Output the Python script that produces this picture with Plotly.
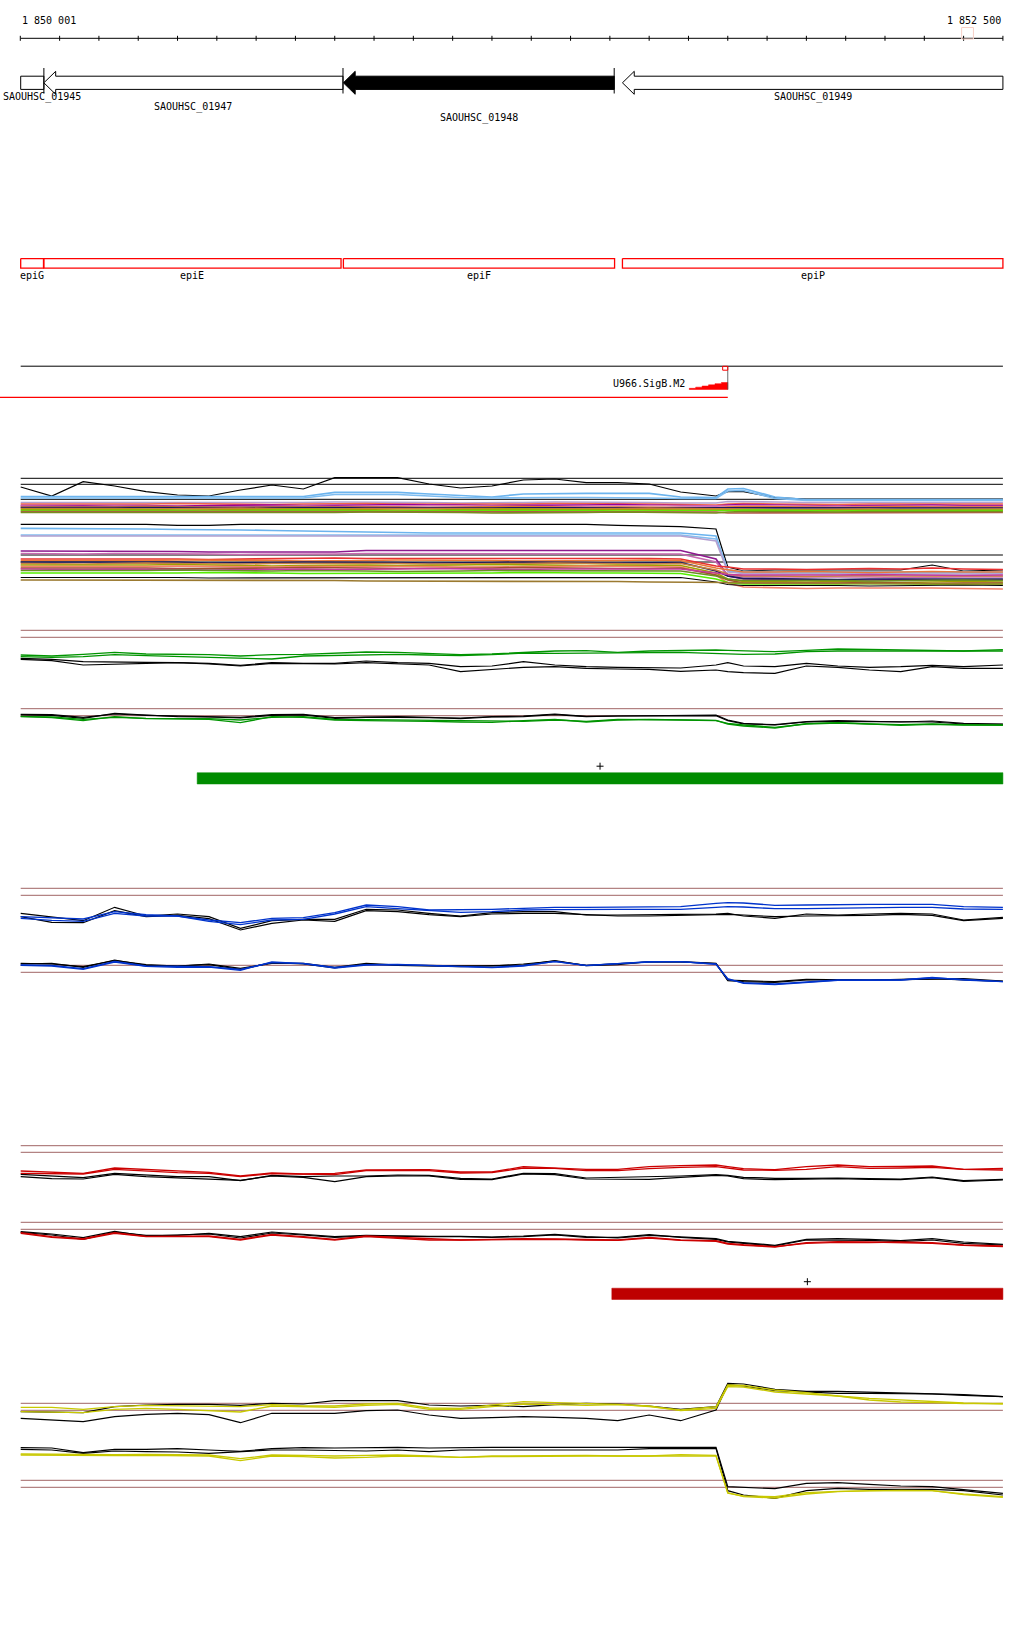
import plotly.graph_objects as go

# ---- genome window -------------------------------------------------------
VIEW_START = 1850001
VIEW_END = 1852500
RULER_TICKS = list(range(1850000, 1852501, 100))
CURSOR_BP = 1852410

GENE_NAMES = ["SAOUHSC_01945", "SAOUHSC_01947", "SAOUHSC_01948", "SAOUHSC_01949"]
GENE_START = [1849700, 1850060, 1850822, 1851532]
GENE_END = [1850060, 1850821, 1851511, 1853300]
GENE_FILL = ["white", "white", "black", "white"]

EPI_NAMES = ["epiG", "epiE", "epiF", "epiP"]
EPI_START = [1849990, 1850060, 1850822, 1851532]
EPI_END = [1850059, 1850816, 1851512, 1853300]

SIGB_NAME = "U966.SigB.M2"
SIGB_SITE = 1851800
SIGB_MOTIF_START = 1851702
SIGB_REGION_START = 1849900

GREEN_OPERON = [1850450, 1852500]
RED_OPERON = [1851505, 1852500]

# probe positions shared by all expression profiles
POS = [1850001, 1850080, 1850160, 1850240, 1850320, 1850400, 1850480, 1850560,
       1850640, 1850720, 1850800, 1850880, 1850960, 1851040, 1851120, 1851200,
       1851280, 1851360, 1851440, 1851520, 1851600, 1851680, 1851770, 1851800,
       1851840, 1851920, 1852000, 1852080, 1852160, 1852240, 1852320, 1852400,
       1852500]

# ---- all-conditions panel, upper half -----------------------------------
A_LEVELS = [4.17, 3.57, 2.07]
A_BLACK = [3.3, 2.4, 3.83, 3.4, 2.83, 2.5, 2.4, 3.0, 3.5, 3.1, 4.23, 4.23, 4.23, 3.6, 3.2, 3.4, 4.0,
           4.1, 3.73, 3.73, 3.6, 2.8, 2.4, 2.83, 2.83, 2.25, 2.1, 2.1, 2.1, 2.1, 2.1, 2.1, 2.1]
A_LB1 = [2.35, 2.35, 2.35, 2.35, 2.35, 2.35, 2.35, 2.35, 2.35, 2.35, 2.77, 2.77, 2.77, 2.6, 2.45, 2.3, 2.6,
         2.67, 2.67, 2.67, 2.67, 2.3, 2.25, 3.1, 3.15, 2.3, 2.05, 2.05, 2.05, 2.05, 2.05, 2.05, 2.05]
A_LB2 = [2.2, 2.2, 2.2, 2.25, 2.25, 2.25, 2.2, 2.2, 2.2, 2.2, 2.55, 2.55, 2.55, 2.4, 2.25, 2.2, 2.25,
         2.25, 2.25, 2.25, 2.2, 2.15, 2.15, 2.9, 2.95, 2.15, 1.95, 1.95, 1.95, 1.95, 1.95, 1.95, 1.95]
A_LAV = [1.75, 1.75, 1.7, 1.7, 1.75, 1.75, 1.7, 1.7, 1.75, 1.75, 1.8, 1.8, 1.75, 1.75, 1.7, 1.7, 1.75,
         1.8, 1.8, 1.75, 1.75, 1.7, 1.7, 1.85, 1.85, 1.8, 1.75, 1.75, 1.8, 1.8, 1.75, 1.75, 1.75]
A_SALMON = [1.6, 1.6, 1.55, 1.6, 1.6, 1.65, 1.6, 1.55, 1.55, 1.6, 1.65, 1.65, 1.6, 1.6, 1.55, 1.6, 1.6,
            1.65, 1.65, 1.6, 1.6, 1.55, 1.5, 1.6, 1.65, 1.6, 1.55, 1.55, 1.6, 1.6, 1.55, 1.55, 1.6]
A_PURPLE = [1.45, 1.45, 1.5, 1.5, 1.45, 1.4, 1.45, 1.5, 1.5, 1.45, 1.45, 1.5, 1.55, 1.55, 1.5, 1.45, 1.45,
            1.5, 1.5, 1.55, 1.5, 1.45, 1.4, 1.5, 1.55, 1.5, 1.45, 1.4, 1.45, 1.5, 1.5, 1.45, 1.45]
A_PINK = [1.4, 1.35, 1.35, 1.4, 1.4, 1.35, 1.3, 1.35, 1.4, 1.4, 1.35, 1.35, 1.4, 1.45, 1.4, 1.4, 1.35,
          1.35, 1.4, 1.4, 1.45, 1.4, 1.35, 1.4, 1.45, 1.4, 1.4, 1.35, 1.35, 1.4, 1.4, 1.35, 1.35]
A_ORANGE = [1.3, 1.3, 1.25, 1.3, 1.35, 1.3, 1.25, 1.25, 1.3, 1.3, 1.35, 1.3, 1.3, 1.25, 1.3, 1.3, 1.35,
            1.3, 1.25, 1.3, 1.3, 1.25, 1.2, 1.3, 1.35, 1.3, 1.25, 1.25, 1.3, 1.35, 1.3, 1.3, 1.3]
A_NAVY = [1.25, 1.25, 1.2, 1.2, 1.25, 1.2, 1.25, 1.25, 1.2, 1.2, 1.25, 1.2, 1.2, 1.25, 1.25, 1.2, 1.2,
          1.25, 1.25, 1.2, 1.2, 1.25, 1.2, 1.25, 1.25, 1.2, 1.2, 1.25, 1.25, 1.2, 1.2, 1.25, 1.2]
A_TAN = [1.15, 1.15, 1.2, 1.15, 1.1, 1.15, 1.15, 1.2, 1.15, 1.1, 1.1, 1.15, 1.15, 1.2, 1.15, 1.15, 1.1,
         1.1, 1.15, 1.15, 1.2, 1.15, 1.1, 1.1, 1.1, 1.05, 1.05, 1.1, 1.1, 1.05, 1.05, 1.1, 1.1]
A_OLIVE = [1.05, 1.05, 1.1, 1.1, 1.05, 1.0, 1.0, 1.05, 1.05, 1.1, 1.05, 1.05, 1.0, 1.0, 1.05, 1.05, 1.1,
           1.05, 1.05, 1.0, 1.0, 1.05, 1.0, 1.0, 0.95, 0.95, 1.0, 1.0, 0.95, 0.95, 1.0, 1.0, 1.0]
A_GREEN = [0.95, 0.95, 1.0, 1.0, 0.95, 0.95, 0.9, 0.95, 1.0, 1.0, 0.95, 0.9, 0.9, 0.95, 0.95, 1.0, 1.0,
           0.95, 0.95, 0.9, 0.9, 0.95, 0.9, 0.95, 1.0, 0.95, 0.95, 0.9, 0.95, 0.95, 0.9, 0.9, 0.95]
A_BROWN = [0.85, 0.85, 0.8, 0.8, 0.85, 0.85, 0.8, 0.85, 0.85, 0.8, 0.8, 0.85, 0.85, 0.85, 0.8, 0.8, 0.85,
           0.85, 0.8, 0.8, 0.85, 0.85, 0.8, 0.7, 0.7, 0.75, 0.7, 0.7, 0.75, 0.75, 0.7, 0.75, 0.75]
A_DRAB = [0.75, 0.75, 0.75, 0.7, 0.7, 0.75, 0.75, 0.7, 0.7, 0.75, 0.75, 0.8, 0.8, 0.75, 0.75, 0.7, 0.7,
          0.75, 0.75, 0.8, 0.75, 0.75, 0.7, 0.8, 0.85, 0.85, 0.8, 0.8, 0.85, 0.85, 0.8, 0.8, 0.85]

# ---- all-conditions panel, lower half -----------------------------------
B_LEVELS = [4.0, 3.3]
B_BLACK = [7.07, 7.07, 7.0, 7.07, 7.07, 6.97, 6.97, 7.07, 7.07, 7.07, 7.07, 7.07, 7.07, 7.07, 7.07, 7.07, 7.07,
           7.07, 7.07, 6.97, 6.93, 6.83, 6.6, 2.8, 2.4, 2.5, 2.5, 2.5, 2.5, 2.5, 3.0, 2.4, 2.5]
B_LB = [6.67, 6.67, 6.67, 6.65, 6.6, 6.55, 6.55, 6.5, 6.45, 6.4, 6.3, 6.25, 6.2, 6.2, 6.2, 6.2, 6.2,
        6.2, 6.2, 6.2, 6.2, 6.2, 5.9, 2.4, 2.2, 2.2, 2.2, 2.15, 2.2, 2.2, 2.25, 2.2, 2.2]
B_LB2 = [6.0, 6.0, 5.95, 5.95, 6.0, 6.0, 5.95, 5.95, 6.0, 6.0, 5.95, 5.95, 5.95, 6.0, 6.0, 6.0, 5.95,
         5.95, 5.95, 6.0, 6.0, 6.0, 5.6, 2.5, 2.35, 2.3, 2.3, 2.35, 2.3, 2.3, 2.3, 2.35, 2.3]
B_LAV = [5.9, 5.9, 5.9, 5.85, 5.85, 5.9, 5.9, 5.85, 5.85, 5.9, 5.9, 5.9, 5.85, 5.85, 5.9, 5.9, 5.9,
         5.85, 5.85, 5.9, 5.9, 5.9, 5.4, 2.3, 2.15, 2.1, 2.1, 2.1, 2.15, 2.1, 2.1, 2.1, 2.1]
B_PURPLE = [4.4, 4.4, 4.4, 4.4, 4.4, 4.35, 4.3, 4.3, 4.3, 4.3, 4.3, 4.45, 4.45, 4.45, 4.5, 4.5, 4.5,
            4.45, 4.45, 4.45, 4.45, 4.45, 3.6, 1.9, 1.6, 1.55, 1.55, 1.5, 1.5, 1.55, 1.5, 1.5, 1.5]
B_PINK = [4.15, 4.1, 4.1, 4.15, 4.15, 4.1, 4.1, 4.05, 4.05, 4.1, 4.1, 4.15, 4.15, 4.1, 4.1, 4.1, 4.15,
          4.15, 4.1, 4.1, 4.1, 4.1, 3.3, 2.0, 1.8, 1.8, 1.85, 1.8, 1.8, 1.75, 1.8, 1.8, 1.8]
B_RED = [3.6, 3.6, 3.65, 3.65, 3.6, 3.6, 3.55, 3.6, 3.65, 3.7, 3.7, 3.65, 3.65, 3.7, 3.7, 3.7, 3.65,
         3.65, 3.7, 3.7, 3.65, 3.6, 2.9, 2.8, 2.6, 2.6, 2.55, 2.6, 2.65, 2.6, 2.7, 2.6, 2.55]
B_ORANGE = [3.45, 3.45, 3.4, 3.4, 3.45, 3.5, 3.5, 3.45, 3.45, 3.4, 3.4, 3.45, 3.5, 3.5, 3.45, 3.45, 3.4,
            3.4, 3.45, 3.45, 3.5, 3.45, 2.7, 2.5, 2.3, 2.3, 2.35, 2.3, 2.25, 2.3, 2.35, 2.3, 2.3]
B_NAVY = [3.3, 3.3, 3.25, 3.25, 3.3, 3.3, 3.2, 3.2, 3.25, 3.3, 3.3, 3.25, 3.25, 3.2, 3.2, 3.25, 3.3,
          3.3, 3.25, 3.2, 3.2, 3.25, 2.4, 1.9, 1.65, 1.6, 1.6, 1.55, 1.6, 1.6, 1.65, 1.6, 1.6]
B_TAN = [3.15, 3.1, 3.1, 3.15, 3.2, 3.15, 3.1, 3.1, 3.15, 3.15, 3.2, 3.2, 3.15, 3.1, 3.1, 3.15, 3.15,
         3.2, 3.15, 3.1, 3.1, 3.15, 2.5, 2.1, 1.9, 1.9, 1.85, 1.9, 1.95, 1.9, 1.9, 1.85, 1.9]
B_OLIVE = [3.0, 3.0, 2.95, 2.95, 3.0, 3.05, 3.0, 2.95, 2.9, 2.95, 3.0, 3.0, 2.95, 2.95, 3.0, 3.05, 3.0,
           2.95, 2.95, 3.0, 3.0, 2.95, 2.2, 1.6, 1.35, 1.3, 1.3, 1.35, 1.3, 1.25, 1.3, 1.35, 1.3]
B_SALMON = [2.85, 2.85, 2.8, 2.8, 2.85, 2.9, 2.85, 2.8, 2.8, 2.85, 2.85, 2.9, 2.9, 2.85, 2.8, 2.8, 2.85,
            2.85, 2.9, 2.85, 2.8, 2.8, 2.0, 1.2, 0.8, 0.7, 0.65, 0.7, 0.7, 0.75, 0.7, 0.65, 0.6]
B_BROWN = [2.7, 2.7, 2.75, 2.75, 2.7, 2.65, 2.65, 2.7, 2.7, 2.75, 2.75, 2.7, 2.65, 2.65, 2.7, 2.7, 2.75,
           2.7, 2.7, 2.65, 2.65, 2.7, 2.0, 1.5, 1.2, 1.2, 1.15, 1.2, 1.25, 1.2, 1.15, 1.2, 1.2]
B_MAG = [2.6, 2.55, 2.55, 2.6, 2.6, 2.55, 2.5, 2.55, 2.6, 2.6, 2.55, 2.55, 2.6, 2.65, 2.6, 2.55, 2.55,
         2.6, 2.6, 2.55, 2.55, 2.6, 2.2, 2.05, 2.0, 2.0, 1.95, 2.0, 2.05, 2.0, 2.0, 1.95, 2.0]
B_DRAB = [2.45, 2.45, 2.4, 2.4, 2.45, 2.5, 2.45, 2.4, 2.4, 2.45, 2.45, 2.4, 2.35, 2.35, 2.4, 2.45, 2.45,
          2.4, 2.4, 2.45, 2.45, 2.4, 1.9, 1.6, 1.45, 1.45, 1.5, 1.45, 1.4, 1.45, 1.45, 1.5, 1.45]
B_GREEN = [2.2, 2.2, 2.15, 2.15, 2.2, 2.2, 2.25, 2.25, 2.2, 2.15, 2.15, 2.2, 2.2, 2.15, 2.15, 2.2, 2.25,
           2.2, 2.2, 2.2, 2.15, 2.15, 1.6, 1.25, 1.1, 1.1, 1.05, 1.1, 1.15, 1.1, 1.1, 1.05, 1.1]
B_DARK = [1.75, 1.75, 1.8, 1.8, 1.75, 1.75, 1.7, 1.7, 1.75, 1.75, 1.7, 1.7, 1.75, 1.75, 1.7, 1.7, 1.75,
          1.75, 1.7, 1.7, 1.75, 1.75, 1.3, 1.05, 0.95, 0.95, 1.0, 0.95, 0.9, 0.95, 0.95, 1.0, 0.95]
B_OCHRE = [1.5, 1.5, 1.5, 1.5, 1.5, 1.5, 1.5, 1.5, 1.5, 1.45, 1.45, 1.4, 1.4, 1.4, 1.4, 1.4, 1.4,
           1.35, 1.35, 1.35, 1.3, 1.3, 1.3, 1.25, 1.2, 1.15, 1.15, 1.15, 1.15, 1.1, 1.1, 1.1, 1.1]

# ---- green condition ----------------------------------------------------
GA_LEVELS = [5.97, 5.27]
GA_G1 = [3.5, 3.4, 3.57, 3.77, 3.6, 3.57, 3.53, 3.4, 3.53, 3.57, 3.67, 3.8, 3.77, 3.67, 3.53, 3.6, 3.77,
         3.9, 3.93, 3.77, 3.9, 3.97, 4.0, 3.97, 3.9, 3.83, 3.97, 4.1, 4.07, 4.0, 3.97, 3.9, 4.03]
GA_G2 = [3.33, 3.27, 3.33, 3.53, 3.43, 3.33, 3.3, 3.2, 3.1, 3.4, 3.47, 3.53, 3.57, 3.5, 3.43, 3.53, 3.7,
         3.67, 3.67, 3.7, 3.73, 3.77, 3.67, 3.63, 3.57, 3.6, 3.83, 3.9, 3.9, 3.87, 3.93, 3.9, 3.9]
GA_K1 = [3.17, 3.07, 2.83, 2.83, 2.77, 2.73, 2.67, 2.47, 2.73, 2.67, 2.67, 2.9, 2.73, 2.67, 2.33, 2.4, 2.83,
         2.5, 2.33, 2.27, 2.27, 2.2, 2.5, 2.73, 2.4, 2.33, 2.67, 2.4, 2.27, 2.33, 2.47, 2.33, 2.5]
GA_K2 = [3.07, 2.93, 2.5, 2.6, 2.67, 2.73, 2.6, 2.4, 2.67, 2.63, 2.6, 2.73, 2.6, 2.5, 1.83, 2.07, 2.27,
         2.33, 2.17, 2.1, 2.07, 1.87, 2.0, 1.83, 1.73, 1.67, 2.4, 2.27, 2.0, 1.83, 2.33, 2.17, 2.17]
GB_LEVELS = [3.13, 2.43]
GB_K1 = [2.57, 2.53, 2.27, 2.6, 2.47, 2.4, 2.33, 2.27, 2.53, 2.57, 2.23, 2.3, 2.33, 2.27, 2.13, 2.3, 2.33,
         2.53, 2.33, 2.4, 2.43, 2.47, 2.5, 2.0, 1.67, 1.5, 1.8, 1.87, 1.83, 1.83, 1.8, 1.6, 1.57]
GB_K2 = [2.5, 2.47, 2.17, 2.67, 2.5, 2.33, 2.3, 2.2, 2.47, 2.5, 2.17, 2.27, 2.27, 2.2, 2.2, 2.33, 2.4,
         2.6, 2.37, 2.4, 2.4, 2.47, 2.43, 1.93, 1.6, 1.53, 1.83, 1.93, 1.87, 1.8, 1.9, 1.67, 1.6]
GB_G1 = [2.33, 2.3, 2.07, 2.27, 2.17, 2.17, 2.13, 2.0, 2.27, 2.33, 2.07, 2.03, 2.0, 1.97, 1.93, 1.87, 1.87,
         2.0, 1.87, 2.07, 2.07, 2.0, 1.93, 1.67, 1.5, 1.27, 1.6, 1.7, 1.6, 1.53, 1.6, 1.5, 1.5]
GB_G2 = [2.37, 2.23, 1.93, 2.33, 2.13, 2.13, 2.07, 1.73, 2.33, 2.27, 2.0, 1.93, 1.93, 1.87, 1.8, 1.77, 1.93,
         2.07, 1.8, 2.0, 2.07, 2.0, 1.97, 1.6, 1.4, 1.2, 1.63, 1.73, 1.63, 1.47, 1.57, 1.53, 1.47]

# ---- blue condition -----------------------------------------------------
BA_LEVELS = [5.17, 4.47]
BA_C1 = [2.33, 2.2, 2.1, 2.83, 2.53, 2.4, 2.0, 1.73, 2.17, 2.23, 2.73, 3.5, 3.33, 3.0, 3.0, 3.07, 3.17,
         3.27, 3.27, 3.27, 3.27, 3.33, 3.67, 3.73, 3.7, 3.47, 3.5, 3.57, 3.57, 3.57, 3.57, 3.33, 3.27]
BA_C2 = [2.17, 1.97, 1.87, 2.67, 2.4, 2.4, 1.87, 1.53, 2.0, 2.07, 2.6, 3.33, 3.13, 2.93, 2.77, 2.83, 3.0,
         3.03, 3.07, 3.07, 3.07, 3.07, 3.27, 3.33, 3.3, 3.13, 3.13, 3.2, 3.27, 3.27, 3.27, 3.1, 3.07]
BA_K1 = [2.67, 2.27, 1.93, 3.27, 2.4, 2.6, 2.33, 1.17, 1.93, 2.07, 2.07, 3.07, 3.0, 2.67, 2.4, 2.73, 2.83,
         2.83, 2.5, 2.5, 2.5, 2.57, 2.6, 2.67, 2.4, 2.17, 2.6, 2.5, 2.6, 2.67, 2.6, 2.0, 2.27]
BA_K2 = [2.33, 1.77, 1.73, 2.93, 2.33, 2.47, 2.13, 1.0, 1.67, 2.0, 1.87, 2.93, 2.83, 2.53, 2.33, 2.6, 2.67,
         2.67, 2.53, 2.4, 2.4, 2.47, 2.5, 2.57, 2.5, 2.33, 2.4, 2.4, 2.47, 2.57, 2.47, 1.93, 2.17]
BB_LEVELS = [2.47, 1.77]
BB_K1 = [2.67, 2.6, 2.33, 2.93, 2.53, 2.4, 2.6, 2.17, 2.67, 2.67, 2.27, 2.67, 2.5, 2.47, 2.4, 2.4, 2.6,
         2.9, 2.47, 2.6, 2.8, 2.83, 2.67, 1.0, 0.93, 0.83, 1.07, 1.0, 1.0, 1.03, 1.1, 1.13, 0.9]
BB_K2 = [2.6, 2.67, 2.27, 3.0, 2.47, 2.4, 2.53, 2.07, 2.73, 2.6, 2.2, 2.6, 2.47, 2.4, 2.33, 2.43, 2.5,
         2.93, 2.43, 2.53, 2.83, 2.8, 2.63, 0.93, 0.83, 0.77, 1.0, 1.03, 1.0, 1.07, 1.13, 1.0, 0.87]
BB_C1 = [2.5, 2.47, 2.13, 2.87, 2.4, 2.33, 2.33, 2.07, 2.73, 2.67, 2.27, 2.53, 2.57, 2.47, 2.4, 2.27, 2.47,
         2.83, 2.47, 2.67, 2.8, 2.83, 2.6, 1.07, 0.73, 0.6, 0.8, 1.0, 1.0, 1.0, 1.2, 1.07, 0.83]
BB_C2 = [2.47, 2.4, 2.07, 2.8, 2.37, 2.27, 2.3, 1.97, 2.8, 2.63, 2.2, 2.5, 2.53, 2.43, 2.37, 2.23, 2.4,
         2.87, 2.43, 2.63, 2.83, 2.83, 2.57, 1.13, 0.67, 0.53, 0.73, 0.97, 0.97, 1.0, 1.27, 1.0, 0.83]

# ---- red condition ------------------------------------------------------
RA_LEVELS = [5.43, 4.77]
RA_C1 = [2.9, 2.77, 2.67, 3.2, 3.07, 2.9, 2.77, 2.4, 2.7, 2.6, 2.67, 3.0, 3.03, 3.03, 2.8, 2.8, 3.33,
         3.2, 3.07, 3.07, 3.33, 3.43, 3.5, 3.33, 3.13, 3.03, 3.33, 3.5, 3.33, 3.37, 3.4, 3.07, 3.17]
RA_C2 = [2.67, 2.63, 2.6, 3.07, 2.9, 2.73, 2.67, 2.33, 2.63, 2.57, 2.53, 2.93, 2.93, 2.93, 2.7, 2.73, 3.2,
         3.17, 2.93, 2.93, 3.13, 3.27, 3.33, 3.2, 3.0, 2.97, 3.07, 3.33, 3.17, 3.2, 3.27, 3.07, 3.0]
RA_K1 = [2.57, 2.4, 2.23, 2.67, 2.47, 2.33, 2.33, 1.93, 2.47, 2.33, 2.4, 2.4, 2.5, 2.47, 2.17, 2.1, 2.67,
         2.63, 2.2, 2.27, 2.3, 2.4, 2.53, 2.47, 2.27, 2.17, 2.17, 2.2, 2.13, 2.1, 2.3, 1.93, 2.07]
RA_K2 = [2.33, 2.13, 2.1, 2.57, 2.33, 2.2, 2.13, 1.97, 2.4, 2.27, 1.83, 2.33, 2.4, 2.4, 2.07, 2.03, 2.6,
         2.53, 2.1, 2.07, 2.07, 2.27, 2.47, 2.4, 2.13, 2.03, 2.07, 2.13, 2.07, 2.03, 2.23, 1.87, 2.0]
RB_LEVELS = [3.77, 3.07]
RB_K1 = [2.83, 2.6, 2.23, 2.87, 2.4, 2.53, 2.6, 2.2, 2.7, 2.5, 2.27, 2.4, 2.33, 2.33, 2.33, 2.27, 2.33,
         2.5, 2.27, 2.27, 2.53, 2.27, 2.07, 1.8, 1.67, 1.4, 2.0, 2.0, 1.97, 1.83, 2.0, 1.67, 1.5]
RB_K2 = [2.77, 2.5, 2.07, 2.8, 2.47, 2.47, 2.67, 2.33, 2.8, 2.57, 2.33, 2.47, 2.4, 2.37, 2.37, 2.3, 2.4,
         2.57, 2.33, 2.2, 2.47, 2.33, 2.13, 1.87, 1.73, 1.47, 2.07, 2.13, 2.07, 1.93, 2.13, 1.8, 1.57]
RB_C1 = [2.73, 2.33, 2.13, 2.73, 2.37, 2.4, 2.4, 2.07, 2.57, 2.33, 2.07, 2.4, 2.27, 2.07, 2.0, 2.07, 2.13,
         2.1, 2.07, 2.0, 2.27, 2.0, 1.93, 1.67, 1.53, 1.33, 1.67, 1.77, 1.73, 1.8, 1.73, 1.5, 1.4]
RB_C2 = [2.67, 2.27, 2.07, 2.67, 2.33, 2.33, 2.33, 2.0, 2.5, 2.27, 2.0, 2.33, 2.2, 2.0, 2.0, 2.03, 2.1,
         2.07, 2.0, 1.97, 2.2, 1.97, 1.87, 1.6, 1.47, 1.3, 1.73, 1.83, 1.8, 1.73, 1.67, 1.47, 1.33]

# ---- yellow condition ---------------------------------------------------
YA_LEVELS = [2.67, 1.97]
YA_K1 = [1.83, 1.77, 1.73, 2.33, 2.5, 2.57, 2.57, 2.47, 2.67, 2.6, 2.93, 2.93, 2.93, 2.5, 2.4, 2.47, 2.33,
         2.53, 2.67, 2.6, 2.4, 2.07, 2.33, 4.67, 4.6, 4.07, 3.87, 3.87, 3.8, 3.67, 3.6, 3.53, 3.33]
YA_K2 = [1.17, 1.03, 0.83, 1.33, 1.57, 1.67, 1.53, 0.73, 1.67, 1.67, 1.67, 1.93, 2.0, 1.5, 1.17, 1.23, 1.33,
         1.27, 1.17, 0.93, 1.5, 0.93, 2.0, 4.53, 4.4, 3.93, 3.77, 3.67, 3.67, 3.67, 3.6, 3.47, 3.33]
YA_C1 = [2.27, 2.27, 2.07, 2.33, 2.47, 2.4, 2.4, 2.33, 2.53, 2.4, 2.4, 2.6, 2.67, 2.2, 2.17, 2.5, 2.83,
         2.73, 2.67, 2.57, 2.33, 2.0, 2.33, 4.5, 4.47, 4.0, 3.73, 3.4, 3.17, 3.0, 2.87, 2.7, 2.6]
YA_C2 = [1.83, 1.8, 1.73, 2.07, 2.17, 2.07, 1.93, 1.8, 2.4, 2.33, 2.27, 2.47, 2.57, 2.07, 2.07, 2.33, 2.6,
         2.53, 2.47, 2.53, 2.4, 1.93, 2.17, 4.33, 4.3, 3.8, 3.6, 3.4, 3.0, 2.8, 2.73, 2.63, 2.67]
YB_LEVELS = [2.97, 2.27]
YB_K1 = [6.23, 6.2, 5.73, 6.07, 6.07, 6.13, 6.0, 5.87, 6.13, 6.23, 6.2, 6.27, 6.27, 6.2, 6.27, 6.27, 6.27,
         6.27, 6.27, 6.2, 6.27, 6.27, 6.27, 2.33, 2.27, 2.13, 2.67, 2.73, 2.57, 2.4, 2.33, 2.07, 1.67]
YB_K2 = [6.07, 6.0, 5.67, 5.9, 5.83, 5.8, 5.67, 5.87, 6.0, 6.0, 5.93, 5.9, 6.0, 5.83, 6.0, 6.0, 6.0,
         6.0, 5.93, 6.0, 6.13, 6.17, 6.17, 1.93, 1.5, 1.17, 1.93, 2.17, 2.07, 2.07, 2.07, 1.93, 1.5]
YB_C1 = [5.6, 5.57, 5.53, 5.53, 5.57, 5.53, 5.5, 5.13, 5.5, 5.47, 5.4, 5.47, 5.5, 5.4, 5.27, 5.4, 5.43,
         5.5, 5.47, 5.4, 5.4, 5.53, 5.47, 1.67, 1.4, 1.33, 1.73, 1.87, 1.93, 1.97, 1.93, 1.6, 1.33]
YB_C2 = [5.5, 5.47, 5.43, 5.43, 5.47, 5.43, 5.4, 4.93, 5.4, 5.33, 5.2, 5.27, 5.4, 5.33, 5.27, 5.33, 5.37,
         5.4, 5.4, 5.4, 5.4, 5.47, 5.4, 1.73, 1.33, 1.2, 1.6, 1.83, 1.93, 1.93, 1.93, 1.53, 1.27]

# ---- page geometry (pixel rows) -----------------------------------------
PAGE_W, PAGE_H = 1024, 1640
LEFT_PX, RIGHT_PX = 20.7, 1003.3
BP_PER_PX = (VIEW_END - VIEW_START + 1) / (RIGHT_PX - LEFT_PX)
X_RANGE = [VIEW_START - LEFT_PX * BP_PER_PX, VIEW_START + (PAGE_W - LEFT_PX) * BP_PER_PX]

FONT = dict(family="DejaVu Sans Mono", size=10, color="black")
CHAR_BP = 6.0 * BP_PER_PX  # approx. width of one label glyph, in bp
LEVEL_COLOR = "#A06464"

fig = go.Figure()


def add(x, y, color, width=1.0, axis="y", fill=None, fillcolor=None):
    fig.add_trace(go.Scatter(x=x, y=y, mode="lines", yaxis=axis, fill=fill or "none",
                             fillcolor=fillcolor, line=dict(color=color, width=width),
                             hoverinfo="skip", showlegend=False))


def label(x, y, text, anchor="center"):
    # keep labels that would run off the left page edge fully on the page
    if anchor == "center" and x - len(text) * CHAR_BP / 2 < X_RANGE[0]:
        x, anchor = X_RANGE[0] + 0.5 * BP_PER_PX, "left"
    fig.add_annotation(x=x, y=y, xref="x", yref="y", text=text, showarrow=False,
                       xanchor=anchor, yanchor="middle", font=FONT)


def fmt(n):
    return f"{n:,}".replace(",", " ")


# ruler
add([VIEW_START, VIEW_END], [38.3, 38.3], "black")
tx, ty = [], []
for t in RULER_TICKS:
    tx += [t, t, None]
    ty += [35.8, 40.8, None]
add(tx, ty, "black")
label(VIEW_START - 2, 20.5, fmt(VIEW_START), "left")
label(VIEW_END - 1, 20.5, fmt(VIEW_END), "right")
cw = 15
add([CURSOR_BP - cw, CURSOR_BP + cw, CURSOR_BP + cw, CURSOR_BP - cw, CURSOR_BP - cw],
    [27.5, 27.5, 39, 39, 27.5], "#F6CFC6")

# genes (all on reverse strand)
HEAD = 30
MID, BODY, HEADH = 82.8, 6.6, 11.5
LABEL_ROWS = [97.3, 106.8, 118, 97.3]
for name, s, e, fc, ly in zip(GENE_NAMES, GENE_START, GENE_END, GENE_FILL, LABEL_ROWS):
    left, right = max(s, VIEW_START), min(e, VIEW_END)
    if s >= VIEW_START:
        xs = [left, left + HEAD, left + HEAD, right, right, left + HEAD, left + HEAD, left]
        ys = [MID, MID - HEADH, MID - BODY, MID - BODY, MID + BODY, MID + BODY, MID + HEADH, MID]
    else:
        xs = [left, right, right, left, left]
        ys = [MID - BODY, MID - BODY, MID + BODY, MID + BODY, MID - BODY]
    add(xs, ys, "black", 1, fill="toself", fillcolor=fc)
    if e <= VIEW_END:
        add([e, e], [68, 93.5], "black")
    label((left + right) / 2, ly, name)

# epi operon features
for name, s, e in zip(EPI_NAMES, EPI_START, EPI_END):
    left, right = max(s, VIEW_START), min(e, VIEW_END)
    add([left, right, right, left, left], [258.6, 258.6, 268.2, 268.2, 258.6], "#FF0000", 1.3)
    label((left + right) / 2, 275.7, name)

# SigB promoter track
add([VIEW_START, VIEW_END], [366.2, 366.2], "black")
add([SIGB_REGION_START, SIGB_SITE], [397.3, 397.3], "#FF0000", 1.3)
steps = 6
sx, sy = [SIGB_MOTIF_START], [389.5]
for i in range(steps):
    xa = SIGB_MOTIF_START + (SIGB_SITE - SIGB_MOTIF_START) * i / steps
    xb = SIGB_MOTIF_START + (SIGB_SITE - SIGB_MOTIF_START) * (i + 1) / steps
    h = 389.5 - 7 * (i + 1) / steps
    sx += [xa, xb]
    sy += [h, h]
sx += [SIGB_SITE, SIGB_MOTIF_START]
sy += [389.5, 389.5]
add(sx, sy, "#FF0000", 0.5, fill="toself", fillcolor="#FF0000")
add([SIGB_SITE, SIGB_SITE], [366.2, 389.5], "#444444", 0.8)
add([SIGB_SITE - 13, SIGB_SITE, SIGB_SITE, SIGB_SITE - 13, SIGB_SITE - 13],
    [366.3, 366.3, 370.2, 370.2, 366.3], "#FF0000", 1)
label(SIGB_MOTIF_START - 6, 383.3, SIGB_NAME, "right")

# operon bars with strand marks
for (s, e), col, top in [(GREEN_OPERON, "#008C00", 772.7), (RED_OPERON, "#BE0000", 1288.2)]:
    add([s, e, e, s, s], [top, top, top + 11.3, top + 11.3, top], col, 0.5,
        fill="toself", fillcolor=col)
    fig.add_trace(go.Scatter(x=[(s + e) / 2], y=[top - 6.5], mode="markers", yaxis="y",
                             marker=dict(symbol="cross-thin", size=5,
                                         line=dict(width=1, color="black")),
                             hoverinfo="skip", showlegend=False))

# expression panels: axis -> (top px, bottom px, levels, level colour, line width, series)
PANELS = {
    "y2": (470, 520, A_LEVELS, "black", 1.7,
           [(A_BLACK, "black"), (A_LB1, "#6CB4EE"), (A_LB2, "#7DBCF0"),
            (A_LAV, "#B3A0D0"), (A_SALMON, "#F0654A"), (A_PURPLE, "#990099"),
            (A_PINK, "#D97AB8"), (A_ORANGE, "#E07830"), (A_NAVY, "#1A1A5E"),
            (A_TAN, "#C87A3A"), (A_OLIVE, "#A0A000"), (A_GREEN, "#5FE800"),
            (A_BROWN, "#B05A4A"), (A_DRAB, "#7A8A1E")]),
    "y3": (520, 595, B_LEVELS, "black", 1.7,
           [(B_BLACK, "black"), (B_LB, "#6CB4EE"), (B_LB2, "#84BDF0"), (B_LAV, "#B3A0D0"),
            (B_PURPLE, "#8E1A8E"), (B_PINK, "#C76AB0"), (B_RED, "#E83030"),
            (B_ORANGE, "#E87838"), (B_NAVY, "#1A1A5E"), (B_TAN, "#C88040"),
            (B_OLIVE, "#A0A000"), (B_SALMON, "#F4806B"), (B_BROWN, "#A0522D"),
            (B_MAG, "#C43C9C"), (B_DRAB, "#6B8E23"), (B_GREEN, "#55EE00"),
            (B_DARK, "black"), (B_OCHRE, "#9B7A30")]),
    "y4": (620, 690, GA_LEVELS, LEVEL_COLOR, 1.3,
           [(GA_K1, "black"), (GA_K2, "black"), (GA_G1, "#009400"), (GA_G2, "#009400")]),
    "y5": (700, 740, GB_LEVELS, LEVEL_COLOR, 1.3,
           [(GB_K1, "black"), (GB_K2, "black"), (GB_G1, "#009400"), (GB_G2, "#009400")]),
    "y6": (880, 940, BA_LEVELS, LEVEL_COLOR, 1.3,
           [(BA_K1, "black"), (BA_K2, "black"), (BA_C1, "#0033CC"), (BA_C2, "#0033CC")]),
    "y7": (950, 990, BB_LEVELS, LEVEL_COLOR, 1.3,
           [(BB_K1, "black"), (BB_K2, "black"), (BB_C1, "#0033CC"), (BB_C2, "#0033CC")]),
    "y8": (1140, 1200, RA_LEVELS, LEVEL_COLOR, 1.3,
           [(RA_K1, "black"), (RA_K2, "black"), (RA_C1, "#CC0000"), (RA_C2, "#CC0000")]),
    "y9": (1210, 1260, RB_LEVELS, LEVEL_COLOR, 1.3,
           [(RB_K1, "black"), (RB_K2, "black"), (RB_C1, "#CC0000"), (RB_C2, "#CC0000")]),
    "y10": (1370, 1430, YA_LEVELS, LEVEL_COLOR, 1.3,
            [(YA_K1, "black"), (YA_K2, "black"), (YA_C1, "#C8C800"), (YA_C2, "#C8C800")]),
    "y11": (1435, 1510, YB_LEVELS, LEVEL_COLOR, 1.3,
            [(YB_K1, "black"), (YB_K2, "black"), (YB_C1, "#C8C800"), (YB_C2, "#C8C800")]),
}

axes = {}
for ax, (top, bottom, levels, lcol, lw, series) in PANELS.items():
    for lv in levels:
        add([VIEW_START, VIEW_END], [lv, lv], lcol, 1, axis=ax)
    for vals, col in series:
        add(POS, vals, col, 1.2 if col == "black" else lw, axis=ax)
    axes["yaxis" + ax[1:]] = dict(domain=[1 - bottom / PAGE_H, 1 - top / PAGE_H],
                                  range=[0, (bottom - top) / 10], anchor="x",
                                  visible=False, fixedrange=True)

fig.update_layout(
    width=PAGE_W, height=PAGE_H, autosize=False,
    margin=dict(l=0, r=0, t=0, b=0, pad=0),
    paper_bgcolor="white", plot_bgcolor="rgba(0,0,0,0)",
    xaxis=dict(range=X_RANGE, visible=False, fixedrange=True),
    yaxis=dict(domain=[0, 1], range=[PAGE_H, 0], visible=False, fixedrange=True),
    **axes,
)

fig.write_html("out.html", config={"displayModeBar": False},
               post_script="document.body.style.margin='0';")
